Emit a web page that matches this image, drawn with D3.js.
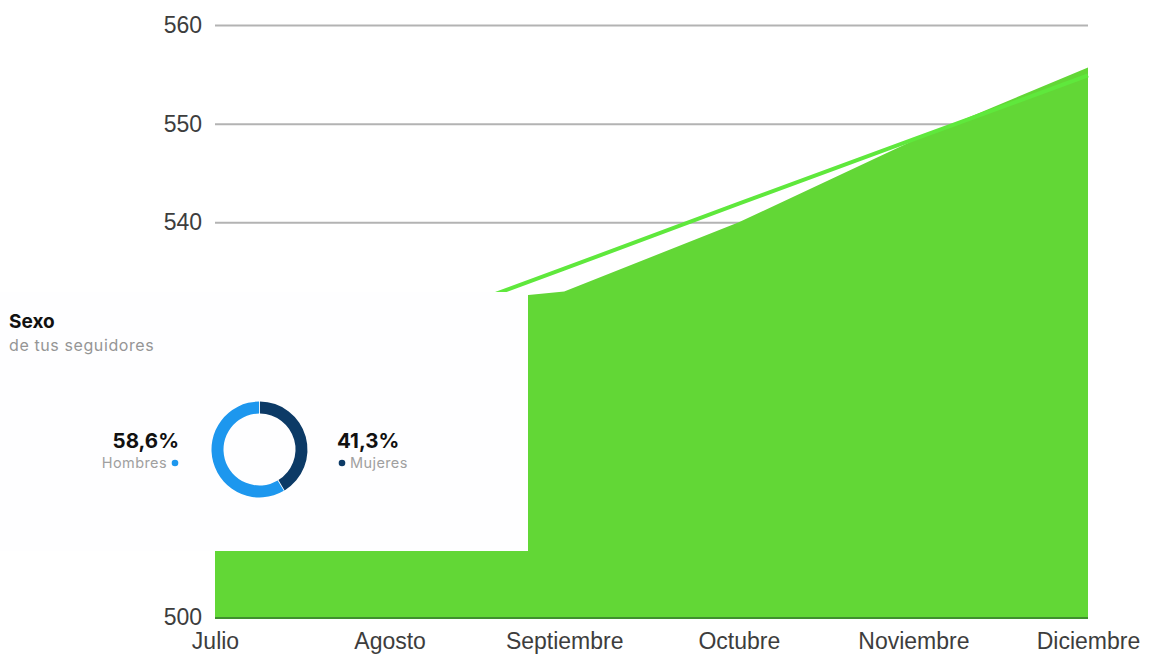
<!DOCTYPE html>
<html>
<head>
<meta charset="utf-8">
<script src="https://cdn.jsdelivr.net/npm/d3@7"></script>
<style>
  body { margin: 0; background: #fff; }
  .tick text { font-family: "Liberation Sans", Arial, sans-serif; }
</style>
</head>
<body>
<svg id="chart" width="1153" height="657"></svg>
<script>
// chart values
const months = ["Julio", "Agosto", "Septiembre", "Octubre", "Noviembre", "Diciembre"];
const areaValues = [530, 531.2, 533, 540, 548.3, 555.7];
const lineValues = [522.2, 528.8, 535.3, 541.9, 548.4, 554.9];
const yTicks = [500, 510, 520, 530, 540, 550, 560];

// overlay card (gender split)
const genderLabels = ["Mujeres", "Hombres"];
const genderShares = [41.3, 58.6];
const genderText = ["41,3%", "58,6%"];
const genderColors = ["#0c3a66", "#1d97ee"];

var margin = {top: 25, right: 65, bottom: 40, left: 215},
    width = 1153 - margin.left - margin.right,
    height = 657 - margin.top - margin.bottom;

const svg = d3.select("#chart");
const g = svg.append("g")
    .attr("transform", `translate(${margin.left}, ${margin.top})`);

const x = d3.scalePoint()
    .domain(months)
    .range([0, width]);

const y = d3.scaleLinear()
    .domain([500, 560])
    .range([height, 0]);

// gridlines
g.append("g")
    .call(d3.axisLeft(y).tickValues(yTicks).tickSize(-width).tickFormat(""))
    .call(a => a.select(".domain").remove())
    .selectAll("line")
      .attr("stroke", "#b3b3b3")
      .attr("stroke-width", 2);

// y labels
g.append("g")
    .call(d3.axisLeft(y).tickValues(yTicks).tickSize(0).tickPadding(13))
    .call(a => a.select(".domain").remove())
    .selectAll("text")
      .style("font-size", "23px")
      .attr("fill", "#3d3d3d");

// x labels
g.append("g")
    .attr("transform", `translate(0, ${height})`)
    .call(d3.axisBottom(x).tickSize(0).tickPadding(16))
    .call(a => a.select(".domain").remove())
    .selectAll("text")
      .style("font-size", "23px")
      .attr("fill", "#3d3d3d");

// area
const area = d3.area()
    .x((d, i) => x(months[i]))
    .y0(y(500))
    .y1(d => y(d));
g.append("path")
    .datum(areaValues)
    .attr("d", area)
    .attr("fill", "#62d736");

// baseline
g.append("line")
    .attr("x1", 0).attr("x2", width)
    .attr("y1", y(500) + 1).attr("y2", y(500) + 1)
    .attr("stroke", "#3f8f2e")
    .attr("stroke-width", 2);

// line
const line = d3.line()
    .x((d, i) => x(months[i]))
    .y(d => y(d));
g.append("path")
    .datum(lineValues)
    .attr("d", line)
    .attr("fill", "none")
    .attr("stroke", "#5fe83c")
    .attr("stroke-width", 4);

// overlay card
const card = svg.append("g");
card.append("rect")
    .attr("x", 0).attr("y", 292)
    .attr("width", 528).attr("height", 259)
    .attr("fill", "#fefeff");

card.append("text")
    .attr("x", 9).attr("y", 328)
    .style("font", "bold 19px Inter, Roboto, sans-serif")
    .attr("fill", "#111")
    .text("Sexo");
card.append("text")
    .attr("x", 9).attr("y", 351)
    .style("font", "16px Inter, Roboto, sans-serif")
    .style("letter-spacing", "0.6px")
    .attr("fill", "#959595")
    .text("de tus seguidores");

const cx = 259.5, cy = 449.5;
const pie = d3.pie().sort(null).padAngle(0.015);
const arc = d3.arc().innerRadius(36).outerRadius(48);
card.append("g")
    .attr("transform", `translate(${cx}, ${cy})`)
    .selectAll("path")
    .data(pie(genderShares))
    .join("path")
      .attr("d", arc)
      .attr("fill", (d, i) => genderColors[i]);

// right label: Mujeres
card.append("text")
    .attr("x", 337).attr("y", 448)
    .style("font", "bold 20.5px Inter, Roboto, sans-serif")
    .attr("fill", "#111")
    .text(genderText[0]);
card.append("circle")
    .attr("cx", 342).attr("cy", 463).attr("r", 3.3)
    .attr("fill", genderColors[0]);
card.append("text")
    .attr("x", 350).attr("y", 468)
    .style("font", "14.5px Inter, Roboto, sans-serif")
    .style("letter-spacing", "0.4px")
    .attr("fill", "#a0a0a0")
    .text(genderLabels[0]);

// left label: Hombres
card.append("text")
    .attr("x", 179).attr("y", 448)
    .attr("text-anchor", "end")
    .style("font", "bold 20.5px Inter, Roboto, sans-serif")
    .attr("fill", "#111")
    .text(genderText[1]);
card.append("circle")
    .attr("cx", 175).attr("cy", 463).attr("r", 3.3)
    .attr("fill", genderColors[1]);
card.append("text")
    .attr("x", 167).attr("y", 468)
    .attr("text-anchor", "end")
    .style("font", "14.5px Inter, Roboto, sans-serif")
    .style("letter-spacing", "0.4px")
    .attr("fill", "#a0a0a0")
    .text(genderLabels[1]);
</script>
</body>
</html>
